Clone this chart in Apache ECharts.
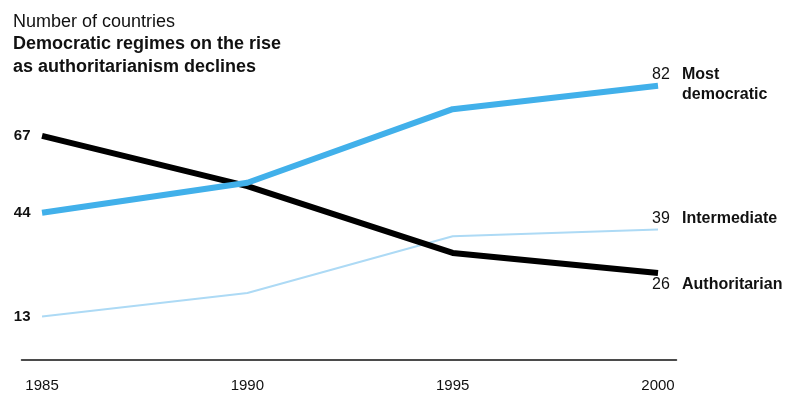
<!DOCTYPE html>
<html>
<head>
<meta charset="utf-8">
<script src="https://cdn.jsdelivr.net/npm/echarts@6/dist/echarts.min.js"></script>
<style>
  html, body { margin: 0; padding: 0; background: #fff; }
  #chart { width: 786px; height: 393px; }
</style>
</head>
<body>
<div id="chart"></div>
<script>
// Number of countries by regime type
const years = [1985, 1990, 1995, 2000];
const mostDemocratic = [44, 53, 75, 82];
const intermediate = [13, 20, 37, 39];
const authoritarian = [67, 52, 32, 26];
const yTickLabels = [67, 44, 13];
const xTickLabels = [1985, 1990, 1995, 2000];

const FONT = '"Liberation Sans", Arial, Helvetica, sans-serif';
const TEXT = '#111';

function points(values) {
  return years.map((y, i) => [y, values[i]]);
}

function lastOf(values) {
  return values[values.length - 1];
}

const endRich = {
  num: { fontFamily: FONT, fontSize: 16, fontWeight: 'normal', color: TEXT, width: 30, align: 'left' },
  name: { fontFamily: FONT, fontSize: 16, fontWeight: 'bold', color: TEXT, lineHeight: 20 }
};

function endLabel(text, offset) {
  return {
    show: true,
    distance: 0,
    offset: offset,
    align: 'left',
    verticalAlign: 'middle',
    formatter: text,
    rich: endRich
  };
}

const chart = echarts.init(document.getElementById('chart'), null, { renderer: 'canvas' });

chart.setOption({
  animation: false,
  backgroundColor: '#fff',
  title: {
    left: 13,
    top: 11,
    padding: 0,
    text: '{a|Number of countries}\n{b|Democratic regimes on the rise}\n{b|as authoritarianism declines}',
    textStyle: {
      fontWeight: 'normal',
      rich: {
        a: { fontFamily: FONT, fontSize: 18, fontWeight: 'normal', color: TEXT, lineHeight: 22 },
        b: { fontFamily: FONT, fontSize: 18, fontWeight: 'bold', color: TEXT, lineHeight: 23 }
      }
    }
  },
  grid: { left: 21.5, right: 109.5, top: 59, bottom: 23 },
  xAxis: {
    type: 'value',
    min: 1984.5,
    max: 2000.45,
    splitLine: { show: false },
    axisTick: { show: false },
    axisLine: { show: true, lineStyle: { color: '#111', width: 1.5 } },
    axisLabel: {
      customValues: xTickLabels,
      formatter: v => String(v),
      margin: 8,
      fontFamily: FONT,
      fontSize: 15,
      color: TEXT
    }
  },
  yAxis: {
    type: 'value',
    min: -3,
    max: 90,
    splitLine: { show: false },
    axisTick: { show: false },
    axisLine: { show: false },
    axisLabel: {
      customValues: yTickLabels,
      formatter: v => String(v),
      margin: -9,
      fontFamily: FONT,
      fontSize: 15,
      fontWeight: 'bold',
      color: TEXT
    }
  },
  series: [
    {
      name: 'Intermediate',
      type: 'line',
      data: points(intermediate),
      showSymbol: false,
      lineStyle: { color: '#addaf5', width: 2 },
      endLabel: endLabel('{num|' + lastOf(intermediate) + '}{name|Intermediate}', [-6, -11])
    },
    {
      name: 'Authoritarian',
      type: 'line',
      data: points(authoritarian),
      showSymbol: false,
      lineStyle: { color: '#000', width: 6 },
      endLabel: endLabel('{num|' + lastOf(authoritarian) + '}{name|Authoritarian}', [-6, 12])
    },
    {
      name: 'Most democratic',
      type: 'line',
      data: points(mostDemocratic),
      showSymbol: false,
      lineStyle: { color: '#41b0ea', width: 6 },
      endLabel: endLabel('{num|' + lastOf(mostDemocratic) + '}{name|Most}\n{num|\u00a0}{name|democratic}', [-6, -1])
    }
  ]
});
</script>
</body>
</html>
